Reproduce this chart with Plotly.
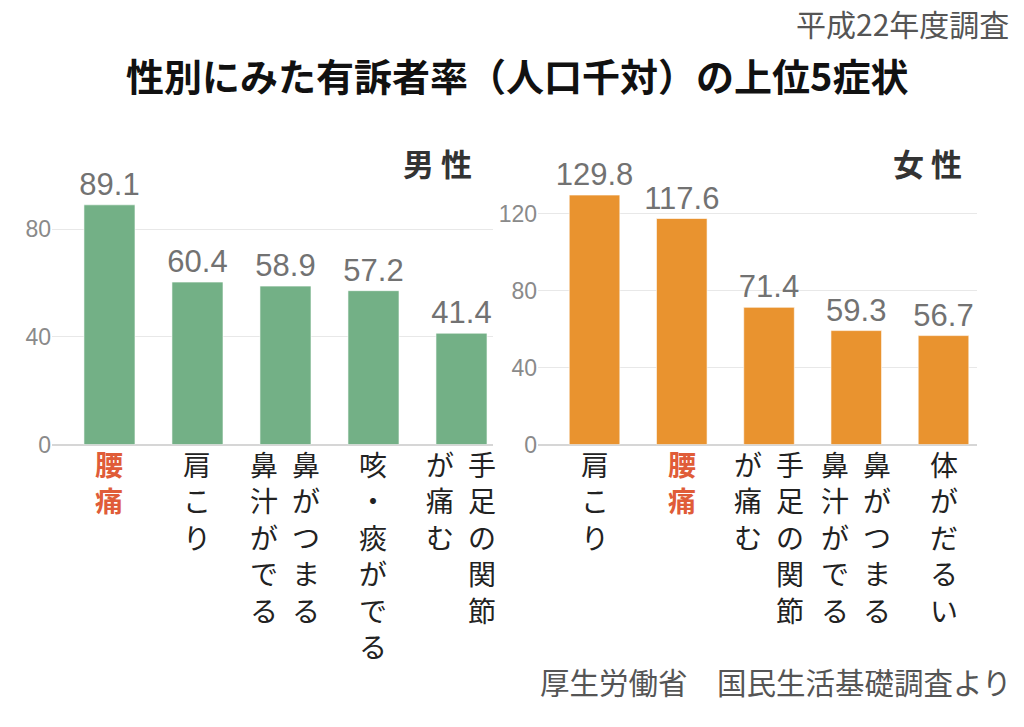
import plotly.graph_objects as go

# ---- data ----
male_label_columns = [["腰痛"], ["肩こり"], ["鼻がつまる", "鼻汁がでる"], ["咳・痰がでる"], ["手足の関節", "が痛む"]]
male_values = [89.1, 60.4, 58.9, 57.2, 41.4]
female_label_columns = [["肩こり"], ["腰痛"], ["手足の関節", "が痛む"], ["鼻がつまる", "鼻汁がでる"], ["体がだるい"]]
female_values = [129.8, 117.6, 71.4, 59.3, 56.7]
highlight = "腰痛"
male_ticks = [0, 40, 80]
female_ticks = [0, 40, 80, 120]

male_categories = ["".join(c) for c in male_label_columns]
female_categories = ["".join(c) for c in female_label_columns]

W, H = 1024, 727          # design frame (reference size)
FIG_H = 741               # figure height used for the page
GREEN = "#73b086"
ORANGE = "#e9932f"
RED = "#e05c38"
NUM_FONT = "Liberation Sans Narrow, Liberation Sans, sans-serif"
JP_FONT = "Noto Sans CJK JP, sans-serif"


def py(px):
    """pixel row from top of the design frame -> paper fraction"""
    return 1 - px / H


fig = go.Figure()
for cats, vals, color, xa, ya in [
    (male_categories, male_values, GREEN, "x", "y"),
    (female_categories, female_values, ORANGE, "x2", "y2"),
]:
    fig.add_trace(go.Bar(
        x=cats, y=vals, xaxis=xa, yaxis=ya,
        marker=dict(color=color, line=dict(color="rgba(255,255,255,0.6)", width=1)),
        width=0.58, text=[f"{v:.1f}" for v in vals], textposition="outside",
        constraintext="none",
        textfont=dict(family=NUM_FONT, size=31, color="#727272"), cliponaxis=False,
        hoverinfo="skip"))

common_y = dict(showgrid=True, gridcolor="#e8e8e8", gridwidth=1,
                zeroline=True, zerolinecolor="#d6d6d6", zerolinewidth=2,
                showline=False, ticks="",
                tickfont=dict(family=NUM_FONT, size=23, color="#8a8a8a"),
                domain=[py(444), py(150)])
common_x = dict(showticklabels=False, showgrid=False, zeroline=False,
                showline=False, ticks="", type="category")

fig.update_layout(
    width=W, height=FIG_H, margin=dict(l=0, r=0, t=0, b=0, pad=0),
    paper_bgcolor="white", plot_bgcolor="white", showlegend=False,
    xaxis=dict(common_x, domain=[52 / W, 493 / W], range=[-0.653, 4.358]),
    xaxis2=dict(common_x, domain=[538 / W, 977 / W], range=[-0.648, 4.384], anchor="y2"),
    yaxis=dict(common_y, range=[0, 294 / 2.6875], tickvals=male_ticks, anchor="x"),
    yaxis2=dict(common_y, range=[0, 294 / 1.92], tickvals=female_ticks, anchor="x2"),
)

annotations = []


def vertical_labels(categories, columns, xref):
    col_gap = 42
    for cat, cols in zip(categories, columns):
        n = len(cols)
        for ci, col in enumerate(cols):
            # columns read right-to-left
            shift = ((n - 1) / 2 - ci) * col_gap
            is_hl = col == highlight
            annotations.append(dict(
                x=cat, xref=xref, y=py(441), yref="paper",
                xshift=shift, text="<br>".join(col), showarrow=False,
                xanchor="center", yanchor="top", align="center",
                font=dict(family=JP_FONT, size=28,
                          color=RED if is_hl else "#222222",
                          weight="bold" if is_hl else "normal")))


vertical_labels(male_categories, male_label_columns, "x")
vertical_labels(female_categories, female_label_columns, "x2")

annotations += [
    dict(x=517 / W, y=py(74), xref="paper", yref="paper", showarrow=False,
         text="性別にみた有訴者率（人口千対）の上位5症状", xanchor="center", yanchor="middle",
         font=dict(family=JP_FONT, size=38, color="#111111", weight="bold")),
    dict(x=1011 / W, y=py(23), xref="paper", yref="paper", showarrow=False,
         text="平成22年度調査", xanchor="right", yanchor="middle",
         font=dict(family=JP_FONT, size=30, color="#555555")),
    dict(x=474 / W, y=py(162), xref="paper", yref="paper", showarrow=False,
         text="男 性", xanchor="right", yanchor="middle",
         font=dict(family=JP_FONT, size=31, color="#333333", weight="bold")),
    dict(x=964 / W, y=py(162), xref="paper", yref="paper", showarrow=False,
         text="女 性", xanchor="right", yanchor="middle",
         font=dict(family=JP_FONT, size=31, color="#333333", weight="bold")),
    dict(x=1013 / W, y=py(680), xref="paper", yref="paper", showarrow=False,
         text="厚生労働省　国民生活基礎調査より", xanchor="right", yanchor="middle",
         font=dict(family=JP_FONT, size=29.5, color="#555555")),
]
fig.update_layout(annotations=annotations)

fig.write_html(
    "out.html",
    config={"displayModeBar": False},
    post_script=(
        "document.documentElement.style.overflow='hidden';"
        "document.body.style.overflow='hidden';"
        "document.body.style.margin='0';"
    ),
)
